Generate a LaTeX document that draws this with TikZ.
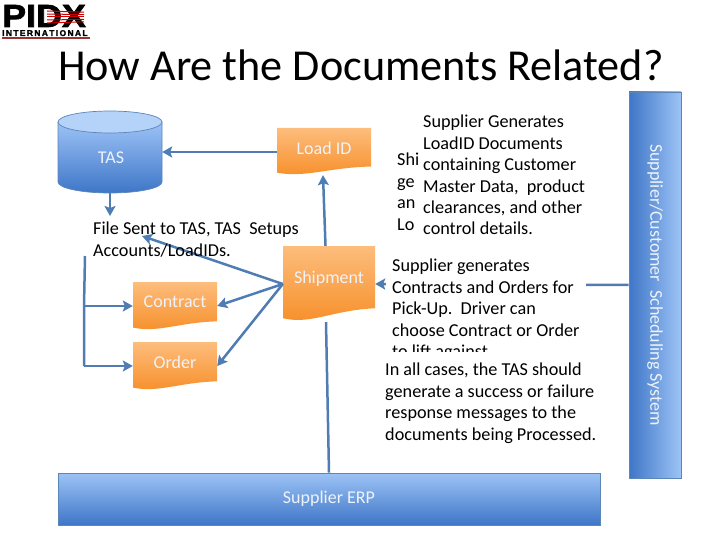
\documentclass[tikz,border=0pt]{standalone}
\usepackage{fontspec}
\setmainfont{Carlito}
\newfontfamily\logofont[BoldFeatures={FakeBold=2}]{Liberation Sans}
\usetikzlibrary{arrows.meta}
\definecolor{flowblue}{HTML}{4F7DB3}
\definecolor{edgeblue}{HTML}{5B86BA}
\definecolor{lightblue}{HTML}{9DC3F6}
\definecolor{darkblue}{HTML}{3E76C7}
\definecolor{lightorange}{HTML}{FDBD7C}
\definecolor{darkorange}{HTML}{F68E28}
\definecolor{labelwhite}{HTML}{EEF3FA}
\tikzset{
	flow/.style={draw=flowblue, line width=2.5pt, -{Stealth[length=10pt,width=11pt,inset=2pt]}},
	flowline/.style={draw=flowblue, line width=2.5pt},
	shapelabel/.style={text=labelwhite, font=\fontsize{18}{21}\selectfont},
	bodytext/.style={anchor=north west, align=left, inner sep=0pt, fill=white, font=\fontsize{18.2}{21.4}\selectfont},
	bluebox/.style={draw=edgeblue, line width=0.7pt}
}
% sheet with a wavy lower edge: name, corners, label offset, label
\def\docsheet(#1)(#2,#3)(#4,#5)(#6)#7;{
	\shade[top color=lightorange, bottom color=darkorange] (#2, #3) -- (#4, #3) -- (#4, {#5-0.18*(#5-#3)})
		.. controls ({#4-0.45*(#4-#2)}, {#5-0.16*(#5-#3)}) and ({#2+0.3*(#4-#2)}, {#5+3}) .. (#2, {#5-0.05*(#5-#3)}) -- cycle;
	\node[minimum width={(#4-#2)*1pt}, minimum height={(#5-#3)*1pt}, inner sep=0pt] (#1) at ({(#2+#4)/2}, {(#3+#5)/2}) {};
	\node[shapelabel] (#1text) at ([yshift=#6pt]#1.center) {#7};
}

\begin{document}
\begin{tikzpicture}[x=1pt, y=-1pt]
	\useasboundingbox (0, 0) rectangle (720, 540);
	%%%%% LOGO AND TITLE %%%%%
	\node[anchor=base west, inner sep=0pt, xscale=1.12] (logo) at (2, 27) {\logofont\bfseries\fontsize{32}{32}\selectfont PIDX};
	\foreach \y in {11, 14, 17, 20, 23}
		\draw[red!80!black, line width=1pt] (47, \y) -- (84, {\y+(17-\y)*0.2});
	\node[anchor=base west, inner sep=0pt] (logosub) at (2, 36) {\logofont\bfseries\fontsize{8.4}{8.4}\selectfont I\,N\,T\,E\,R\,N\,A\,T\,I\,O\,N\,A\,L};
	\fill[red!50!black!80] (2, 37.5) rectangle (90, 39.5);
	\node[anchor=base west, inner sep=0pt, font=\fontsize{44.2}{48}\selectfont] (title) at (58, 81) {How Are the Documents Related?};

	%%%%% TAS %%%%%
	\shade[top color=lightblue, bottom color=darkblue] (58, 122) -- (58, 182) arc (180:0:52 and 11) -- (162, 122) -- cycle;
	\draw[bluebox] (58, 122) -- (58, 182) arc (180:0:52 and 11) -- (162, 122);
	\draw[bluebox, fill=lightblue!75!white] (110, 122) ellipse (52 and 11);
	\node[minimum width=104pt, minimum height=82pt, inner sep=0pt] (tas) at (110, 152) {};
	\node[shapelabel] (tastext) at (111, 158) {TAS};

	%%%%% DOCUMENTS %%%%%
	\docsheet(loadid)(277,128)(371,175)(3.5){Load ID};
	\docsheet(shipment)(283,246)(375,322)(5){Shipment};
	\docsheet(contract)(133,282)(217,330)(4){Contract};
	\docsheet(order)(133,342)(217,390)(4){Order};

	%%%%% SYSTEMS %%%%%
	\node[bluebox, minimum width=542pt, minimum height=52pt, top color=lightblue, bottom color=darkblue, shapelabel] (erp) at (329, 499) {Supplier ERP};
	\node[bluebox, minimum width=386pt, minimum height=52pt, rotate=-90, left color=darkblue, right color=lightblue, shapelabel] (scheduling) at (655, 285) {Supplier/Customer\ \ Scheduling System};

	%%%%% CONNECTORS %%%%%
	\coordinate (tasend) at (110, 216);
	\coordinate (filetip) at (142, 236);
	\coordinate (bustop) at (85, 256);
	\coordinate (buscontract) at (84, 306);
	\coordinate (busorder) at (84, 366);
	\draw[flow] (loadid.west |- tas.east) -- (tas.east);
	\draw[flow] ([xshift=-3.5pt]shipment.north) -- ([xshift=-1pt]loadid.south);
	\draw[flow] (tas.south) -- (tasend);
	\draw[flow] (shipment.west) -- (filetip);
	\draw[flow] (shipment.west) -- (contract.east);
	\draw[flow] (shipment.west) -- (order.east);
	\draw[flowline] (bustop) -- (buscontract) -- (busorder);
	\draw[flow] (buscontract) -- (contract.west);
	\draw[flow] (busorder) -- (order.west);
	\draw[flowline] (erp.north) -- ([xshift=-3pt]shipment.south);
	\draw[flow] (scheduling.south) -- (shipment.east);

	%%%%% TEXT %%%%%
	\node[bodytext, fill=none] (filetext) at (93, 222) {File Sent to TAS, TAS\ \ Setups\\Accounts/LoadIDs.};
	\node[bodytext, fill=none] (hiddentext) at (397, 153) {Shi\\ge\\an\\Lo};
	\node[bodytext, inner xsep=2pt, inner ysep=1pt] (loadtext) at (421, 114) {Supplier Generates\\LoadID Documents\\containing Customer\\Master Data,\ \ product\\clearances, and other\\control details.};
	\fill[white] (386, 254) rectangle (586, 352);
	\node[bodytext, fill=none] (ordertext) at (392, 259) {Supplier generates\\Contracts and Orders for\\Pick-Up.\ \ Driver can\\choose Contract or Order\\to lift against};
	\fill[white] (380, 352) rectangle (598, 446);
	\node[bodytext, fill=none] (casestext) at (385, 363) {In all cases, the TAS should\\generate a success or failure\\response messages to the\\documents being Processed.};
\end{tikzpicture}
\end{document}
